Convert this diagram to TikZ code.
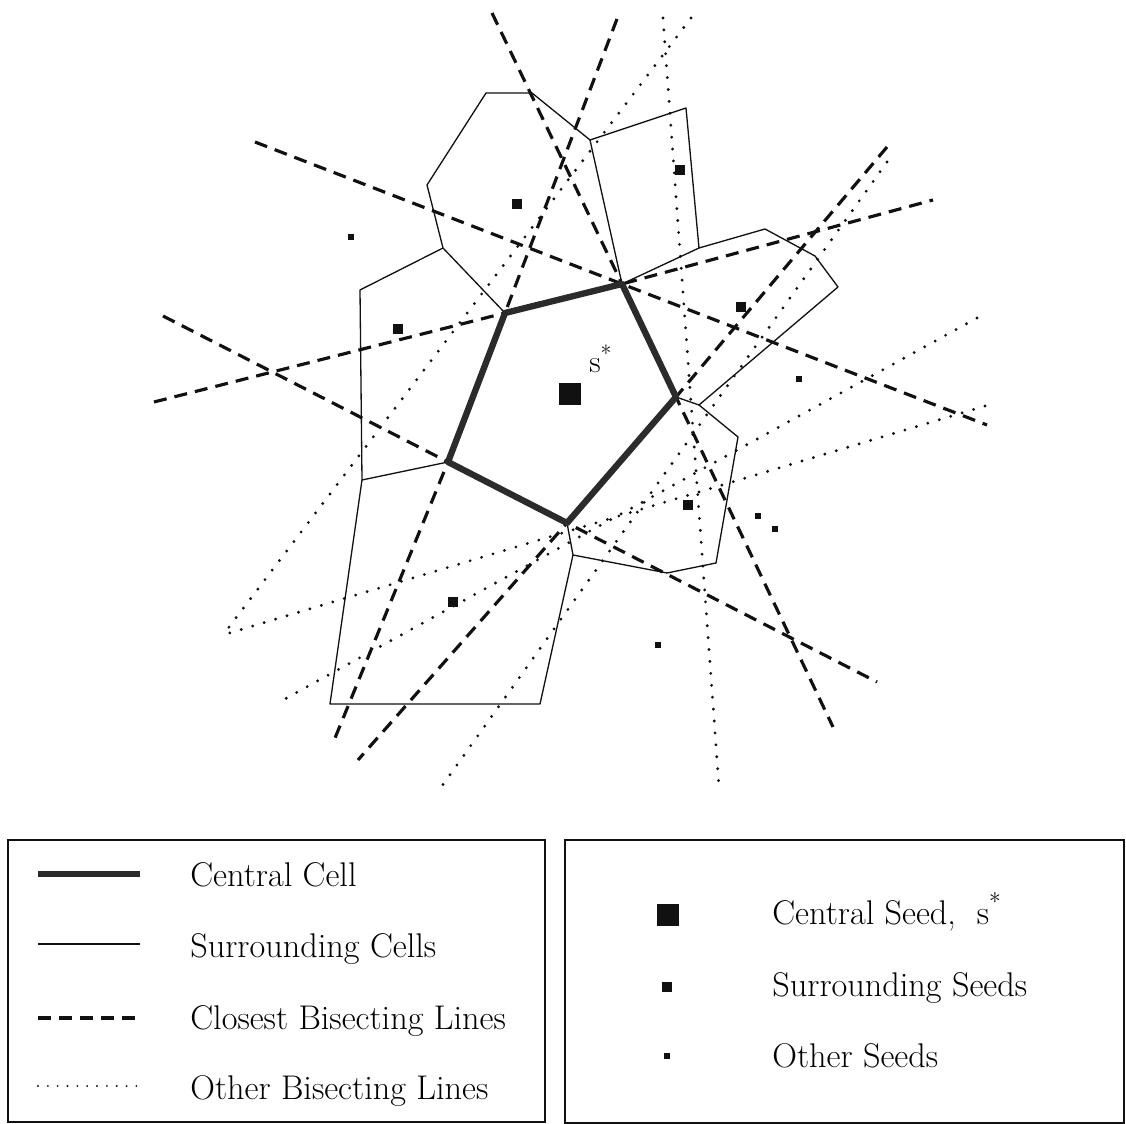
\documentclass[tikz,border=0pt]{standalone}
\usepackage{tikz}
\usetikzlibrary{calc}
\definecolor{ink}     {HTML}{111111}
\definecolor{cellink} {HTML}{2B2B2B}
\tikzset{
  cellline/.style   ={draw=ink, line width=0.75pt, line join=round},
  centralline/.style={draw=cellink, line width=3.6pt, line join=round},
  closeline/.style  ={draw=ink, line width=1.8pt,
                      dash pattern=on 7.4pt off 4.6pt},
  otherline/.style  ={draw=ink, line width=1.8pt, line cap=round,
                      dash pattern=on 0pt off 6.8pt},
  bigseed/.style    ={fill=ink, minimum size=12pt, inner sep=0pt},
  midseed/.style    ={fill=ink, minimum size=6.2pt, inner sep=0pt},
  smallseed/.style  ={fill=ink, minimum size=3pt, inner sep=0pt},
  keybox/.style     ={draw=ink, line width=0.6pt},
  keytext/.style    ={font=\fontsize{19.5}{23}\selectfont, anchor=base west,
                      inner sep=0pt},
  seedname/.style   ={font=\fontsize{18}{22}\selectfont, anchor=base west,
                      inner sep=0pt},
}

\begin{document}
\begin{tikzpicture}[x=0.02cm,y=-0.02cm]
    \useasboundingbox (0,0) rectangle (1126,1124);
    % corners of the central cell
    \coordinate (v1) at (505,313);
    \coordinate (v2) at (622,284);
    \coordinate (v3) at (676,397);
    \coordinate (v4) at (567,523);
    \coordinate (v5) at (448,462);

    % other bisecting lines
    \draw[otherline] (663,18) -- (719,787);
    \draw[otherline] (691,18) -- (223,635);
    \draw[otherline] (887,162) -- (437,793);
    \draw[otherline] (985,406) -- (223,635);
    \draw[otherline] (977,318) -- (283,700);

    % closest bisecting lines
    \draw[closeline] (154,402) -- (v1) -- (v2) -- (933,200);
    \draw[closeline] (617,19) -- (v1) -- (v5) -- (335,738);
    \draw[closeline] (492,13) -- (v2) -- (v3) -- (833,727);
    \draw[closeline] (163,316) -- (v5) -- (v4) -- (877,682);
    \draw[closeline] (887,147) -- (v3) -- (v4) -- (358,760);
    \draw[closeline] (255,142) -- (v2) -- (987,425);

    % surrounding cells
    \draw[cellline] (486,93) -- (532,93) -- (590,140) -- (v2) -- (v1)
      -- (443,248) -- (427,185) -- cycle;
    \draw[cellline] (590,140) -- (686,108) -- (699,248) -- (v2);
    \draw[cellline] (699,248) -- (765,229) -- (815,256) -- (838,287)
      -- (699,405) -- (v3);
    \draw[cellline] (699,405) -- (738,437) -- (716,563) -- (667,573)
      -- (573,555) -- (v4);
    \draw[cellline] (443,248) -- (360,290) -- (362,480) -- (v5);
    \draw[cellline] (362,480) -- (330,704) -- (540,704) -- (573,555);

    % central cell
    \draw[centralline] (v1) -- (v2) -- (v3) -- (v4) -- (v5) -- cycle;

    % seeds
    \node[bigseed] (cseed) at (570,394) {};
    \node[seedname] (cname) at (589,373) {s\textsuperscript{*}};
    \node[midseed] (s1) at (517,204) {};
    \node[midseed] (s2) at (680,170) {};
    \node[midseed] (s3) at (741,307) {};
    \node[midseed] (s4) at (398,329) {};
    \node[midseed] (s5) at (688,505) {};
    \node[midseed] (s6) at (453,602) {};
    \node[smallseed] (o1) at (351,237) {};
    \node[smallseed] (o2) at (799,379) {};
    \node[smallseed] (o3) at (758,516) {};
    \node[smallseed] (o4) at (775,529) {};
    \node[smallseed] (o5) at (658,645) {};

    % key: lines
    \draw[keybox] (8,840) rectangle (545,1122);
    \draw[centralline, line width=3pt] (38,874) -- (140,874);
    \draw[cellline] (38,944) -- (140,944);
    \draw[closeline] (38,1018) -- (140,1018);
    \draw[otherline, line width=1.2pt, dash pattern=on 0pt off 5.6pt]
      (38,1086) -- (140,1086);
    \node[keytext] (kcell)  at (190,886)  {Central Cell};
    \node[keytext] (kround) at (190,957)  {Surrounding Cells};
    \node[keytext] (kclose) at (190,1029) {Closest Bisecting Lines};
    \node[keytext] (kother) at (190,1099) {Other Bisecting Lines};

    % key: seeds
    \draw[keybox] (565,840) rectangle (1124,1123);
    \node[bigseed]   (kbig)   at (668,915)  {};
    \node[midseed]   (kmid)   at (667,987)  {};
    \node[smallseed] (ksmall) at (667,1056) {};
    \node[keytext] (kcseed) at (772,924)  {Central Seed,\ \ s\textsuperscript{*}};
    \node[keytext] (ksseed) at (772,996)  {Surrounding Seeds};
    \node[keytext] (koseed) at (772,1067) {Other Seeds};
  \end{tikzpicture}
\end{document}
